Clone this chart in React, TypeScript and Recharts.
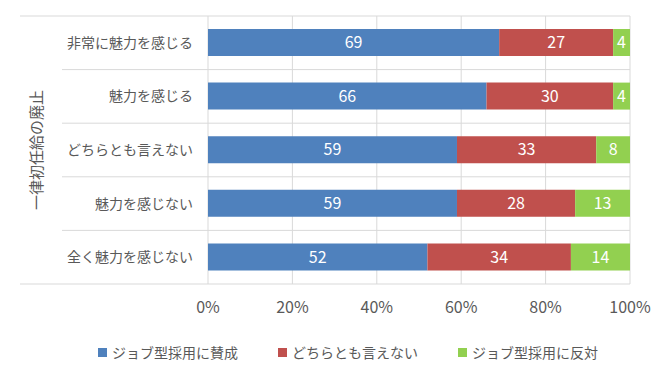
import { BarChart, Bar, XAxis, YAxis, CartesianGrid, LabelList, Legend, Label } from "recharts";

const categories = ["非常に魅力を感じる", "魅力を感じる", "どちらとも言えない", "魅力を感じない", "全く魅力を感じない"];
const agree = [69, 66, 59, 59, 52];
const neutral = [27, 30, 33, 28, 34];
const oppose = [4, 4, 8, 13, 14];
const seriesNames = ["ジョブ型採用に賛成", "どちらとも言えない", "ジョブ型採用に反対"];
const seriesColors = ["#4F81BD", "#C0504D", "#92D050"];
const xTicks = [0, 20, 40, 60, 80, 100];
const axisTitle = "一律初任給の廃止";

const data = categories.map((name, i) => ({
  name,
  agree: agree[i],
  neutral: neutral[i],
  oppose: oppose[i],
}));

const FONT = '"Noto Sans CJK JP", "Noto Sans", sans-serif';
const TEXT = "#595959";
const GRID = "#d9d9d9";

const CategoryTick = (props: any) => {
  const { x, y, payload, index } = props;
  const half = payload.offset ?? 26.8;
  const isLast = payload.value === categories[categories.length - 1];
  return (
    <g>
      <line x1={index === 0 ? 20 : 62} x2={630} y1={y - half} y2={y - half} stroke={GRID} />
      {isLast && <line x1={20} x2={630} y1={y + half} y2={y + half} stroke={GRID} />}
      <text x={x} y={y} dy="0.35em" textAnchor="end" fill={TEXT} fontSize={14} fontFamily={FONT}>
        {payload.value}
      </text>
    </g>
  );
};

const AxisTitle = (props: any) => {
  const { viewBox } = props;
  const cx = viewBox.x + 15;
  const cy = viewBox.y + viewBox.height / 2;
  return (
    <text
      x={cx}
      y={cy}
      transform={`rotate(-90 ${cx} ${cy})`}
      textAnchor="middle"
      dominantBaseline="central"
      fill={TEXT}
      fontSize={15}
      fontFamily={FONT}
    >
      {axisTitle}
    </text>
  );
};

const LegendContent = () => (
  <div style={{ display: "flex", marginLeft: 78, gap: 40, fontFamily: FONT, fontSize: 14, color: TEXT }}>
    {seriesNames.map((n, i) => (
      <div key={n} style={{ display: "flex", alignItems: "center" }}>
        <span style={{ width: 9, height: 9, background: seriesColors[i], marginRight: 5, display: "inline-block" }} />
        <span>{n}</span>
      </div>
    ))}
  </div>
);

const App = () => {
  const keys = ["agree", "neutral", "oppose"];
  return (
    <div style={{ position: "absolute", left: 0, top: 0, width: 662, height: 372, background: "#fff" }}>
      <BarChart
        width={662}
        height={372}
        data={data}
        layout="vertical"
        margin={{ top: 16, right: 32, left: 20, bottom: 10 }}
      >
        <CartesianGrid vertical horizontal={false} stroke={GRID} />
        <XAxis
          type="number"
          domain={[0, 100]}
          ticks={xTicks}
          tickFormatter={(v) => `${v}%`}
          axisLine={false}
          tickLine={false}
          tickMargin={12}
          height={58}
          tick={{ fill: TEXT, fontSize: 16, fontFamily: FONT }}
        />
        <YAxis
          type="category"
          dataKey="name"
          width={188}
          axisLine={false}
          tickLine={false}
          tickMargin={9}
          tick={<CategoryTick />}
        >
          <Label content={<AxisTitle />} />
        </YAxis>
        <Legend verticalAlign="bottom" content={<LegendContent />} />
        {keys.map((k, i) => (
          <Bar key={k} dataKey={k} name={seriesNames[i]} stackId="a" fill={seriesColors[i]} barSize={27} isAnimationActive={false}>
            <LabelList dataKey={k} position="center" fill="#fff" fontSize={16} fontFamily={FONT} />
          </Bar>
        ))}
      </BarChart>
    </div>
  );
};

export default App;
